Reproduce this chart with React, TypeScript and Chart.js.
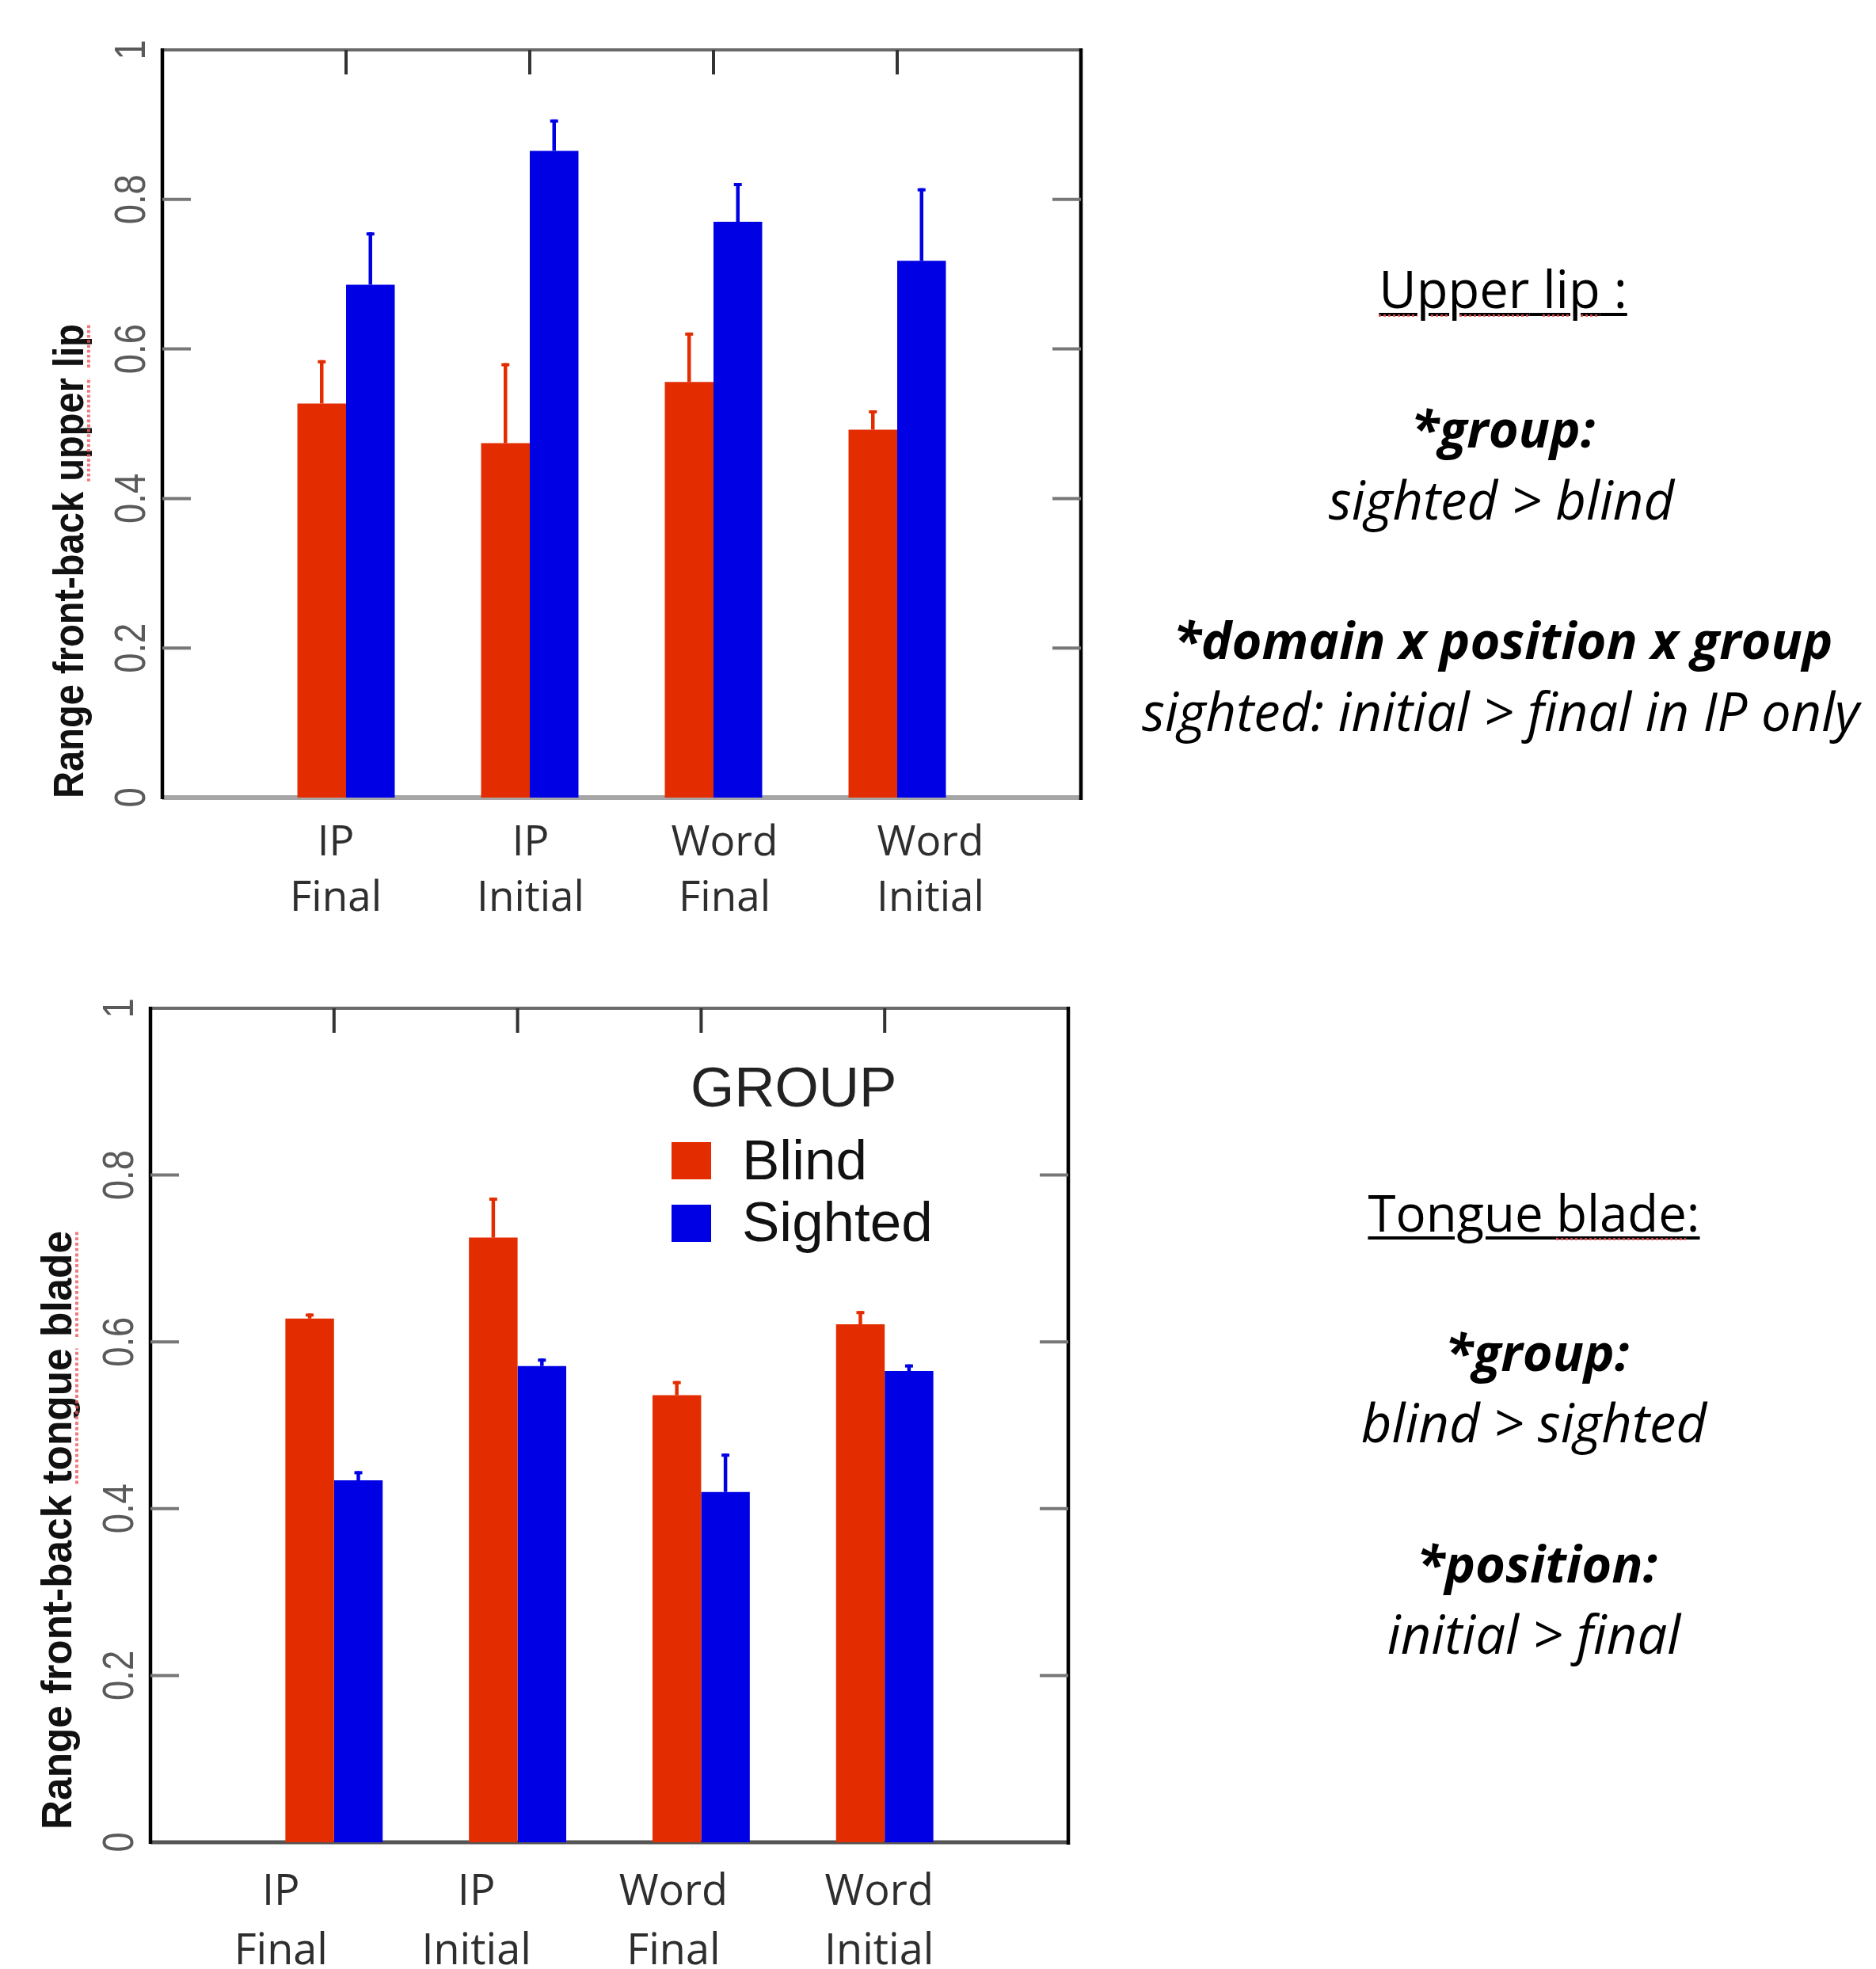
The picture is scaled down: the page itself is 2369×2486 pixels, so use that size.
import React, { useEffect, useRef } from 'react';
import { Chart, registerables } from 'chart.js';

Chart.register(...registerables);

// ---------- data ----------
const categoryLabels: string[][] = [
  ['IP', 'Final'],
  ['IP', 'Initial'],
  ['Word', 'Final'],
  ['Word', 'Initial'],
];
const groupLabels = ['Blind', 'Sighted'];
const groupColors = ['#E32D00', '#0000E5'];
const legendTitle = 'GROUP';
const yTickValues = [0, 0.2, 0.4, 0.6, 0.8, 1];
const yTickLabels = ['0', '0.2', '0.4', '0.6', '0.8', '1'];

// Upper lip (top panel)
const lipBlind = [0.527, 0.474, 0.556, 0.492];
const lipBlindErr = [0.058, 0.107, 0.066, 0.026];
const lipSighted = [0.686, 0.865, 0.770, 0.718];
const lipSightedErr = [0.070, 0.042, 0.052, 0.097];

// Tongue blade (bottom panel)
const bladeBlind = [0.628, 0.725, 0.536, 0.621];
const bladeBlindErr = [0.006, 0.048, 0.017, 0.016];
const bladeSighted = [0.434, 0.571, 0.420, 0.565];
const bladeSightedErr = [0.011, 0.009, 0.046, 0.008];

const lipTitle = 'Range front-back upper lip';
const bladeTitle = 'Range front-back tongue blade';

// ---------- panel ----------
type PanelProps = {
  top: number;
  width: number;
  height: number;
  padding: { left: number; top: number; right: number; bottom: number };
  blind: number[];
  blindErr: number[];
  sighted: number[];
  sightedErr: number[];
  title: string;
  titleFlags: string[];
  titleBaselineX: number;
  titleStartOffset: number;
  titleLength: number;
  titleFont: string;
  labelOffsets: number[];
  labelBaselines: [number, number];
  labelFont: string;
  bottomAxisColor: string;
  bottomAxisWidth: number;
  showLegend: boolean;
  leftTicks: boolean;
};

function Panel(p: PanelProps) {
  const ref = useRef<HTMLCanvasElement | null>(null);

  useEffect(() => {
    if (!ref.current) return;
    const errs = [p.blindErr, p.sightedErr];

    const decor = {
      id: 'decor',
      beforeDatasetsDraw(chart: any) {
        const { ctx, chartArea: ca, scales } = chart;
        const x = scales.x;
        const y = scales.y;
        ctx.save();
        ctx.lineCap = 'butt';
        // bottom axis line (bars drawn over it)
        ctx.strokeStyle = p.bottomAxisColor;
        ctx.lineWidth = p.bottomAxisWidth;
        ctx.beginPath();
        ctx.moveTo(ca.left, ca.bottom);
        ctx.lineTo(ca.right + 2, ca.bottom);
        ctx.stroke();
        // top border
        ctx.strokeStyle = '#6a6a6a';
        ctx.lineWidth = 4;
        ctx.beginPath();
        ctx.moveTo(ca.left, ca.top);
        ctx.lineTo(ca.right, ca.top);
        ctx.stroke();
        // left & right borders
        ctx.strokeStyle = '#000';
        ctx.lineWidth = 4.5;
        ctx.beginPath();
        ctx.moveTo(ca.left, ca.top - 2);
        ctx.lineTo(ca.left, ca.bottom + 2);
        ctx.moveTo(ca.right, ca.top - 2);
        ctx.lineTo(ca.right, ca.bottom + 3);
        ctx.stroke();
        // inward y ticks
        ctx.strokeStyle = '#777';
        ctx.lineWidth = 4;
        ctx.beginPath();
        yTickValues.forEach((v) => {
          if (v <= 0 || v >= 1) return;
          const py = y.getPixelForValue(v);
          if (p.leftTicks) {
            ctx.moveTo(ca.left, py);
            ctx.lineTo(ca.left + 36, py);
          }
          ctx.moveTo(ca.right, py);
          ctx.lineTo(ca.right - 36, py);
        });
        ctx.stroke();
        // inward x ticks at top
        ctx.strokeStyle = '#333';
        ctx.lineWidth = 4;
        ctx.beginPath();
        categoryLabels.forEach((_, i) => {
          const px = x.getPixelForValue(i + 1);
          ctx.moveTo(px, ca.top);
          ctx.lineTo(px, ca.top + 31);
        });
        ctx.stroke();
        ctx.restore();
      },
      afterDatasetsDraw(chart: any) {
        const { ctx, scales } = chart;
        const y = scales.y;
        ctx.save();
        chart.data.datasets.forEach((ds: any, i: number) => {
          const meta = chart.getDatasetMeta(i);
          meta.data.forEach((el: any, j: number) => {
            const v = ds.data[j];
            if (v == null) return;
            const e = errs[i][j - 1];
            const bx = el.x;
            const y0 = y.getPixelForValue(v);
            const y1 = y.getPixelForValue(v + e);
            ctx.strokeStyle = ds.backgroundColor;
            ctx.lineWidth = 4.5;
            ctx.beginPath();
            ctx.moveTo(bx, y0);
            ctx.lineTo(bx, y1);
            ctx.stroke();
            ctx.lineWidth = 4;
            ctx.beginPath();
            ctx.moveTo(bx - 5, y1 + 2);
            ctx.lineTo(bx + 5, y1 + 2);
            ctx.stroke();
          });
        });
        ctx.restore();
      },
      afterDraw(chart: any) {
        const { ctx, chartArea: ca, scales } = chart;
        const x = scales.x;
        const y = scales.y;
        ctx.save();
        // y tick labels (rotated)
        ctx.font = '56px "Liberation Sans", Arial, sans-serif';
        ctx.fillStyle = '#5a5a5a';
        ctx.textAlign = 'center';
        ctx.textBaseline = 'alphabetic';
        yTickValues.forEach((v, i) => {
          const py = y.getPixelForValue(v);
          ctx.save();
          ctx.translate(ca.left - 42, py);
          ctx.rotate(-Math.PI / 2);
          ctx.scale(0.81, 1);
          ctx.fillText(yTickLabels[i], 0, 20);
          ctx.restore();
        });
        // y title (rotated)
        ctx.save();
        ctx.font = p.titleFont;
        const tw = ctx.measureText(p.title).width;
        const s = p.titleLength / tw;
        ctx.translate(p.titleBaselineX, ca.bottom + p.titleStartOffset);
        ctx.rotate(-Math.PI / 2);
        ctx.scale(s, 1);
        ctx.fillStyle = '#111';
        ctx.textAlign = 'left';
        ctx.fillText(p.title, 0, 0);
        ctx.strokeStyle = 'rgba(240,90,90,0.8)';
        ctx.lineWidth = 4;
        ctx.setLineDash([4, 3]);
        p.titleFlags.forEach((w) => {
          const idx = p.title.indexOf(w);
          if (idx < 0) return;
          const x0 = ctx.measureText(p.title.slice(0, idx)).width;
          const x1 = x0 + ctx.measureText(w).width;
          ctx.beginPath();
          ctx.moveTo(x0, 7);
          ctx.lineTo(x1, 7);
          ctx.stroke();
        });
        ctx.restore();
        // x category labels
        ctx.font = p.labelFont;
        ctx.fillStyle = '#2e2e2e';
        ctx.textAlign = 'center';
        ctx.textBaseline = 'alphabetic';
        categoryLabels.forEach((lines, i) => {
          const px = x.getPixelForValue(i + 1) + p.labelOffsets[i];
          lines.forEach((ln, k) => {
            ctx.fillText(ln, px, ca.bottom + p.labelBaselines[k]);
          });
        });
        // legend
        if (p.showLegend) {
          const lx = ca.left + 658;
          const t = ca.top;
          ctx.font = '71px "Liberation Sans", Arial, sans-serif';
          ctx.textAlign = 'left';
          ctx.fillStyle = '#222';
          ctx.fillText(legendTitle, lx + 24, t + 124);
          chart.data.datasets.forEach((ds: any, i: number) => {
            ctx.fillStyle = ds.backgroundColor;
            ctx.fillRect(lx, t + 169 + i * 79, 50, 47);
            ctx.fillStyle = '#111';
            ctx.fillText(ds.label, lx + 89, t + 216 + i * 78);
          });
        }
        ctx.restore();
      },
    };

    const chart = new Chart(ref.current, {
      type: 'bar',
      data: {
        labels: ['', ...categoryLabels.map((l) => l.join(' ')), ''],
        datasets: [
          {
            label: groupLabels[0],
            data: [null, ...p.blind, null],
            backgroundColor: groupColors[0],
            borderWidth: 0,
            categoryPercentage: 0.53,
            barPercentage: 1,
          },
          {
            label: groupLabels[1],
            data: [null, ...p.sighted, null],
            backgroundColor: groupColors[1],
            borderWidth: 0,
            categoryPercentage: 0.53,
            barPercentage: 1,
          },
        ],
      },
      options: {
        responsive: false,
        maintainAspectRatio: false,
        animation: false,
        layout: { padding: p.padding },
        plugins: {
          legend: { display: false },
          tooltip: { enabled: false },
          title: { display: false },
        },
        scales: {
          x: { display: false, offset: false },
          y: { display: false, min: 0, max: 1 },
        },
      },
      plugins: [decor],
    } as any);
    return () => chart.destroy();
  }, []);

  return (
    <canvas
      ref={ref}
      width={p.width}
      height={p.height}
      style={{ position: 'absolute', left: 0, top: p.top, width: p.width, height: p.height }}
    />
  );
}

// ---------- annotation text ----------
function Note(props: {
  cx: number;
  baseline: number;
  size?: number;
  bold?: boolean;
  italic?: boolean;
  children: React.ReactNode;
}) {
  const size = props.size ?? (props.italic ? (props.bold ? 65 : 67) : 64);
  return (
    <div
      style={{
        position: 'absolute',
        left: props.cx - 520,
        width: 1040,
        top: props.baseline - 0.888 * size,
        fontSize: size,
        lineHeight: `${size}px`,
        fontFamily: '"Open Sans", sans-serif',
        fontWeight: props.bold ? 700 : 400,
        fontStyle: props.italic ? 'italic' : 'normal',
        textAlign: 'center',
        whiteSpace: 'nowrap',
        color: '#000',
      }}
    >
      {props.children}
    </div>
  );
}

const underline: React.CSSProperties = {
  textDecorationLine: 'underline',
  textDecorationColor: '#000',
  textDecorationThickness: '4px',
  textUnderlineOffset: '6px',
};
const squiggle: React.CSSProperties = {
  textDecorationLine: 'underline',
  textDecorationStyle: 'dotted',
  textDecorationColor: 'rgba(240,80,80,0.85)',
  textDecorationThickness: '3px',
  textUnderlineOffset: '8px',
};

export default function App() {
  return (
    <div
      style={{
        position: 'absolute',
        left: 0,
        top: 0,
        width: 2369,
        height: 2486,
        overflow: 'hidden',
        background: '#fff',
      }}
    >
      <Panel
        top={0}
        width={1400}
        height={1210}
        padding={{ left: 205, top: 63, right: 35, bottom: 203 }}
        blind={lipBlind}
        blindErr={lipBlindErr}
        sighted={lipSighted}
        sightedErr={lipSightedErr}
        title={lipTitle}
        titleFlags={['upper', 'lip']}
        titleBaselineX={105}
        titleStartOffset={1}
        titleLength={599}
        titleFont={'bold 53px "Liberation Sans", Arial, sans-serif'}
        labelOffsets={[-13, 1, 14, 42]}
        labelBaselines={[73, 143]}
        labelFont={'53px "Open Sans", sans-serif'}
        bottomAxisColor={'#a6a6a6'}
        bottomAxisWidth={6}
        showLegend={false}
        leftTicks={true}
      />
      <Panel
        top={1220}
        width={1400}
        height={1266}
        padding={{ left: 190, top: 53, right: 51, bottom: 160 }}
        blind={bladeBlind}
        blindErr={bladeBlindErr}
        sighted={bladeSighted}
        sightedErr={bladeSightedErr}
        title={bladeTitle}
        titleFlags={['tongue', 'blade']}
        titleBaselineX={90}
        titleStartOffset={-16}
        titleLength={756}
        titleFont={'bold 53px "Liberation Sans", Arial, sans-serif'}
        labelOffsets={[-67, -52, -35, -7]}
        labelBaselines={[79, 154]}
        labelFont={'54px "Open Sans", sans-serif'}
        bottomAxisColor={'#555'}
        bottomAxisWidth={5}
        showLegend={true}
        leftTicks={true}
      />

      <Note cx={1898} baseline={390} size={65}>
        <span style={underline}>
          <span style={squiggle}>Upper</span> <span style={squiggle}>lip</span> :
        </span>
      </Note>
      <Note cx={1898} baseline={566} bold italic>*group:</Note>
      <Note cx={1896} baseline={656} italic>sighted &gt; blind</Note>
      <Note cx={1898} baseline={833} bold italic>*domain x position x group</Note>
      <Note cx={1895} baseline={923} italic>sighted: initial &gt; final in IP only</Note>

      <Note cx={1937} baseline={1555} size={63.5}>
        <span style={underline}>
          Tongue <span style={squiggle}>blade</span>:
        </span>
      </Note>
      <Note cx={1941} baseline={1732} bold italic>*group:</Note>
      <Note cx={1937} baseline={1821} italic>blind &gt; sighted</Note>
      <Note cx={1941} baseline={1999} bold italic>*position:</Note>
      <Note cx={1937} baseline={2088} italic>initial &gt; final</Note>
    </div>
  );
}
